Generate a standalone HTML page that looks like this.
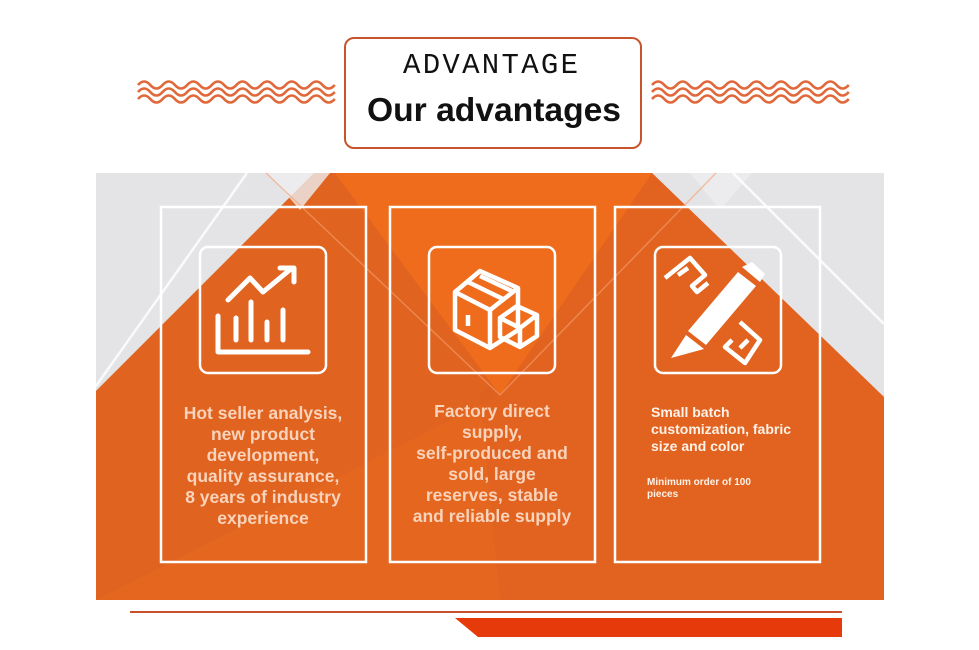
<!DOCTYPE html>
<html><head><meta charset="utf-8"><style>
html,body{margin:0;padding:0;background:#fff;}
body{width:979px;height:650px;position:relative;overflow:hidden;font-family:"Liberation Sans",sans-serif;}
.t{position:absolute;color:#f9d3bb;font-weight:bold;text-align:center;}
</style></head><body>
<svg width="979" height="650" style="position:absolute;left:0;top:0">
<defs>
<path id="w" d="M0 0 q6.15 -7 12.3 0 t12.3 0 t12.3 0 t12.3 0 t12.3 0 t12.3 0 t12.3 0 t12.3 0 t12.3 0 t12.3 0 t12.3 0 t12.3 0 t12.3 0 t12.3 0 t12.3 0 t12.3 0" fill="none" stroke="#e0683a" stroke-width="2.6"/>
</defs>
<g transform="translate(138,85)"><use href="#w"/><use href="#w" y="7"/><use href="#w" y="14"/></g>
<g transform="translate(652,85)"><use href="#w"/><use href="#w" y="7"/><use href="#w" y="14"/></g>
<rect x="345" y="38" width="296" height="110" rx="9" fill="#fff" stroke="#c8542c" stroke-width="2"/>
<text x="403" y="73" textLength="175" lengthAdjust="spacing" font-family="Liberation Mono, monospace" font-size="29" fill="#111">ADVANTAGE</text>
<text x="367" y="121" textLength="254" lengthAdjust="spacingAndGlyphs" font-family="Liberation Sans, sans-serif" font-weight="bold" font-size="33" fill="#111">Our advantages</text>
<rect x="96" y="173" width="788" height="427" fill="#e4e4e6"/>
<polygon points="314,173 652,173 884,397 884,600 96,600 96,391" fill="#e4661f"/>
<polygon points="96,391 314,173 335,173 500,395 96,600" fill="#de6020" opacity="0.6"/>
<polygon points="652,173 884,397 884,600 500,600 480,395" fill="#de6020" opacity="0.5"/>
<polygon points="335,173 652,173 500,395" fill="#ef6c1c"/>
<polygon points="268,173 330,173 300,210" fill="#ededf0" opacity="0.8"/>
<polygon points="690,173 752,173 720,210" fill="#ededf0" opacity="0.8"/>
<line x1="96" y1="386" x2="247" y2="173" stroke="#fff" stroke-width="2.5" opacity="0.85"/>
<line x1="266" y1="173" x2="500" y2="395" stroke="#f4a070" stroke-width="1.5" opacity="0.6"/>
<line x1="716" y1="173" x2="500" y2="395" stroke="#f4a070" stroke-width="1.5" opacity="0.6"/>
<line x1="733" y1="173" x2="884" y2="324" stroke="#fff" stroke-width="2.5" opacity="0.85"/>
<rect x="161" y="207" width="205" height="355" fill="none" stroke="#fff" stroke-width="2.5"/>
<rect x="390" y="207" width="205" height="355" fill="none" stroke="#fff" stroke-width="2.5"/>
<rect x="615" y="207" width="205" height="355" fill="none" stroke="#fff" stroke-width="2.5"/>
<rect x="200" y="247" width="126" height="126" rx="8" fill="none" stroke="#fff" stroke-width="2.5"/>
<rect x="429" y="247" width="126" height="126" rx="8" fill="none" stroke="#fff" stroke-width="2.5"/>
<rect x="655" y="247" width="126" height="126" rx="8" fill="none" stroke="#fff" stroke-width="2.5"/>
<g stroke="#fff" stroke-width="5" fill="none" stroke-linecap="round" stroke-linejoin="round">
<path d="M218 316 V352 H308"/>
<path d="M228 300 L250 278 L263 292 L292 268"/>
<path d="M280 268 H294 V282"/>
<path d="M236 318 V340 M251 302 V340 M267 322 V340 M283 310 V340"/>
</g>
<g stroke="#fff" stroke-width="4.5" fill="none" stroke-linejoin="round">
<path d="M455 292 L480 271 L518 288 L518 330 L490 348 L455 330 Z"/>
<path d="M455 292 L490 310 L518 288 M490 310 V348"/>
<path d="M468 282 L505 300 M480 276 L514 292"/>
<path d="M500 318 L517 306 L537 315 L537 336 L520 347 L500 337 Z M500 318 L520 328 L537 315 M520 328 V347"/>
<path d="M468 315 V326"/>
</g>
<g stroke="#fff" stroke-width="4.5" fill="none" stroke-linejoin="round">
<path d="M665 278 L690 258 L705 275 L692 286 L697 292 L708 283"/>
<path d="M678 275 L688 268"/>
<path d="M740 322 L760 340 L745 363 L725 347 L732 340"/>
<path d="M740 348 L748 340"/>
</g>
<polygon points="738,272 756,286 706,345 688,331" fill="#fff"/>
<polygon points="742,267 752,262 765,274 760,282" fill="#fff"/>
<polygon points="686,335 704,349 671,358" fill="#fff"/>
<line x1="130" y1="612" x2="842" y2="612" stroke="#c8512b" stroke-width="2"/>
<polygon points="455,618 842,618 842,637 478,637" fill="#e63a0a"/>
</svg>
<div class="t" style="left:163px;top:403px;width:200px;font-size:17.5px;line-height:21px;">Hot seller analysis,<br>new product<br>development,<br>quality assurance,<br>8 years of industry<br>experience</div>
<div class="t" style="left:392px;top:401px;width:200px;font-size:17.5px;line-height:21px;">Factory direct<br>supply,<br>self-produced and<br>sold, large<br>reserves, stable<br>and reliable supply</div>
<div class="t" style="left:651px;top:404px;width:170px;font-size:14px;line-height:17px;text-align:left;color:#fff2e8;">Small batch<br>customization, fabric<br>size and color</div>
<div class="t" style="left:647px;top:477px;width:170px;font-size:10px;line-height:12px;text-align:left;color:#fff2e8;">Minimum order of 100<br>pieces</div>
</body></html>
